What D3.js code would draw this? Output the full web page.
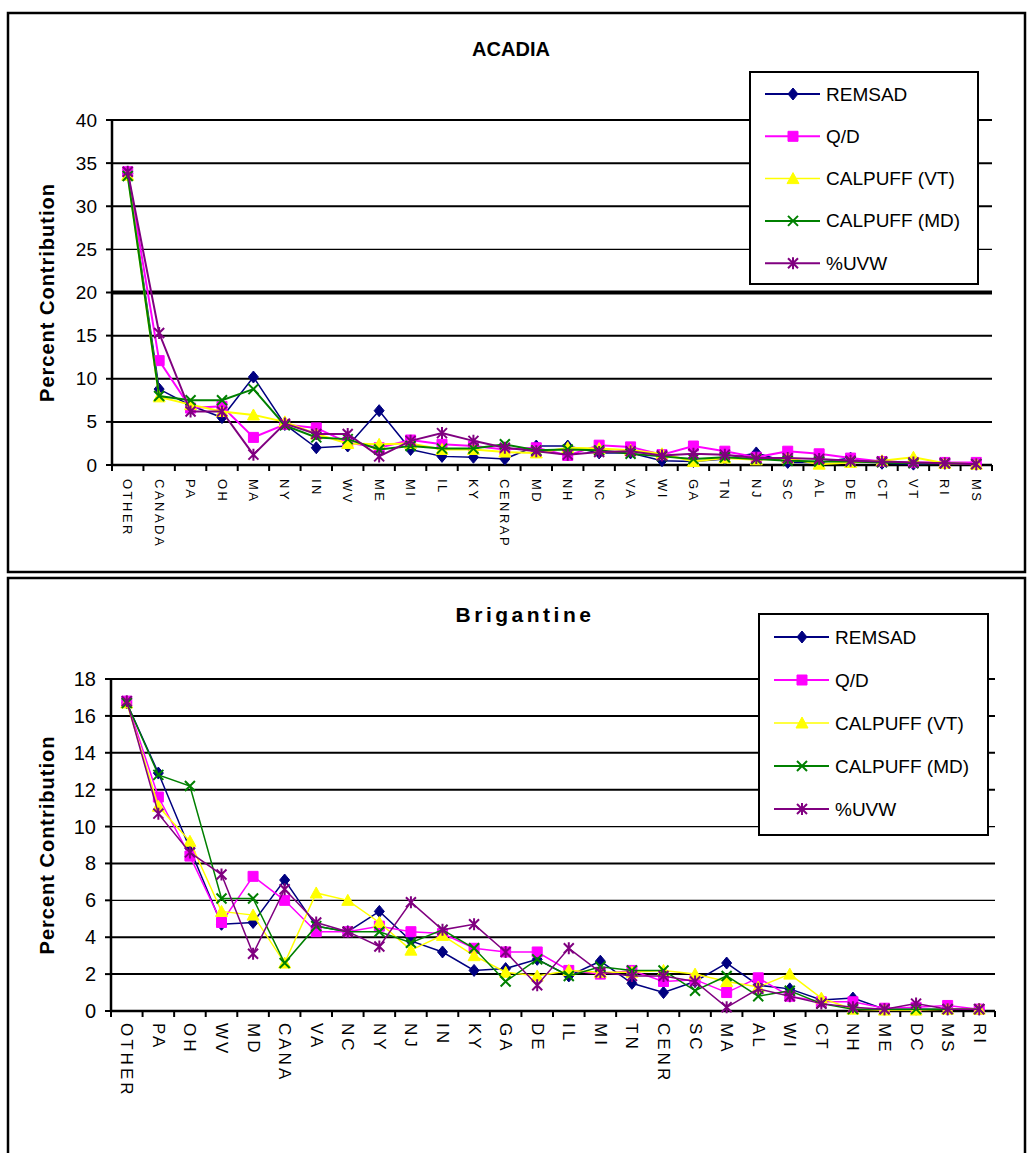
<!DOCTYPE html>
<html>
<head>
<meta charset="utf-8">
<script src="https://cdn.jsdelivr.net/npm/d3@7"></script>
<style>
  body { margin: 0; background: #fff; }
  svg { display: block; font-family: Arial, "Liberation Sans", sans-serif; }
</style>
</head>
<body>
<svg id="chart" width="1027" height="1153"></svg>
<script>
// ---- data ----
const seriesNames = ["REMSAD", "Q/D", "CALPUFF (VT)", "CALPUFF (MD)", "%UVW"];

const acadiaStates = ["OTHER","CANADA","PA","OH","MA","NY","IN","WV","ME","MI","IL","KY","CENRAP","MD",
    "NH","NC","VA","WI","GA","TN","NJ","SC","AL","DE","CT","VT","RI","MS"];
const acadiaRemsad = [33.8, 8.8, 6.9, 5.5, 10.2, 4.7, 2.0, 2.2, 6.3, 1.8, 1.0, 0.9, 0.7, 2.2, 2.2, 1.4, 1.4, 0.5, 0.4, 0.7, 1.4, 0.3, 0.3, 0.8, 0.2, 0.1, 0.2, 0.1];
const acadiaQD     = [34.0, 12.1, 6.6, 6.8, 3.2, 4.7, 4.3, 2.6, 2.0, 2.9, 2.4, 2.2, 1.8, 2.0, 1.1, 2.3, 2.1, 1.2, 2.2, 1.6, 0.9, 1.6, 1.3, 0.8, 0.4, 0.3, 0.3, 0.3];
const acadiaVT     = [33.6, 7.9, 7.0, 6.2, 5.8, 5.0, 3.6, 2.5, 2.4, 2.5, 1.8, 1.8, 1.5, 1.4, 2.0, 1.9, 1.7, 1.3, 0.4, 0.8, 0.6, 0.8, 0.1, 0.3, 0.5, 0.9, 0.2, 0.1];
const acadiaMD     = [33.5, 8.0, 7.5, 7.5, 8.8, 4.6, 3.2, 3.0, 1.8, 2.2, 1.9, 1.9, 2.4, 1.7, 1.8, 1.7, 1.3, 1.0, 0.7, 0.9, 0.7, 0.5, 0.4, 0.4, 0.3, 0.2, 0.2, 0.1];
const acadiaUVW    = [34.0, 15.3, 6.2, 6.2, 1.2, 4.8, 3.6, 3.6, 1.0, 2.8, 3.7, 2.8, 2.0, 1.6, 1.2, 1.5, 1.6, 1.1, 1.3, 1.2, 0.8, 0.8, 0.7, 0.5, 0.4, 0.3, 0.2, 0.1];
const acadiaTicks  = [0, 5, 10, 15, 20, 25, 30, 35, 40];

const brigStates = ["OTHER","PA","OH","WV","MD","CANA","VA","NC","NY","NJ","IN","KY","GA","DE","IL","MI",
    "TN","CENR","SC","MA","AL","WI","CT","NH","ME","DC","MS","RI"];
const brigRemsad = [16.7, 12.9, 8.8, 4.7, 4.8, 7.1, 4.6, 4.3, 5.4, 3.8, 3.2, 2.2, 2.3, 2.8, 1.9, 2.7, 1.5, 1.0, 1.6, 2.6, 1.4, 1.2, 0.6, 0.7, 0.1, 0.1, 0.1, 0.1];
const brigQD     = [16.8, 11.6, 8.4, 4.8, 7.3, 6.0, 4.3, 4.3, 4.6, 4.3, 4.2, 3.4, 3.2, 3.2, 2.2, 2.0, 2.2, 1.6, 1.7, 1.0, 1.8, 0.8, 0.5, 0.5, 0.15, 0.2, 0.3, 0.1];
const brigVT     = [16.7, 11.1, 9.2, 5.4, 5.2, 2.6, 6.4, 6.0, 4.8, 3.3, 4.1, 3.0, 2.1, 1.9, 2.2, 2.1, 2.1, 2.2, 2.0, 1.6, 1.3, 2.0, 0.7, 0.1, 0.05, 0.05, 0.1, 0.1];
const brigMD     = [16.7, 12.8, 12.2, 6.1, 6.1, 2.6, 4.6, 4.3, 4.3, 3.7, 4.4, 3.4, 1.6, 2.8, 1.9, 2.4, 2.2, 2.2, 1.1, 1.9, 0.8, 1.1, 0.4, 0.1, 0.1, 0.1, 0.1, 0.1];
const brigUVW    = [16.8, 10.7, 8.6, 7.4, 3.1, 6.6, 4.8, 4.3, 3.5, 5.9, 4.4, 4.7, 3.2, 1.4, 3.4, 2.1, 1.9, 1.9, 1.6, 0.2, 1.2, 0.8, 0.4, 0.2, 0.1, 0.4, 0.1, 0.1];
const brigTicks  = [0, 2, 4, 6, 8, 10, 12, 14, 16, 18];

const colors = ["#000080", "#ff00ff", "#ffff00", "#008000", "#800080"];

// marker paths centred on 0,0
function markerPath(i, s) {
    let h = s / 2;
    if (i == 0) return `M0,${-h - 1}L${h},0L0,${h + 1}L${-h},0Z`;
    if (i == 1) return `M${-h},${-h}H${h}V${h}H${-h}Z`;
    if (i == 2) return `M0,${-h - 1}L${h + 1},${h}H${-h - 1}Z`;
    if (i == 3) return `M${-h},${-h}L${h},${h}M${h},${-h}L${-h},${h}`;
    return `M${-h},${-h}L${h},${h}M${h},${-h}L${-h},${h}M0,${-h - 1}V${h + 1}`;
}

let svg = d3.select("#chart");

function drawPanel(cfg) {
    let g = svg.append("g");

    // panel frame
    g.append("rect")
        .attr("x", cfg.box[0]).attr("y", cfg.box[1])
        .attr("width", cfg.box[2]).attr("height", cfg.box[3])
        .attr("fill", "none").attr("stroke", "#000").attr("stroke-width", 2.5);

    g.append("text")
        .attr("x", cfg.titleX).attr("y", cfg.titleY)
        .attr("text-anchor", "middle")
        .attr("font-size", cfg.titleFont).attr("font-weight", "bold")
        .attr("letter-spacing", cfg.titleSpacing)
        .text(cfg.title);

    let x = d3.scaleBand().domain(cfg.states).range([cfg.left, cfg.right]);
    let y = d3.scaleLinear().domain([0, d3.max(cfg.ticks)]).range([cfg.bottom, cfg.top]);

    // gridlines (scan gives them uneven weights)
    g.selectAll(".grid").data(cfg.ticks.filter(t => t > 0)).enter()
        .append("line")
        .attr("x1", cfg.left).attr("x2", cfg.right)
        .attr("y1", d => y(d)).attr("y2", d => y(d))
        .attr("stroke", "#000")
        .attr("stroke-width", d => cfg.gridW[d] || 2);

    // y axis + ticks + labels
    g.append("line").attr("x1", cfg.left).attr("x2", cfg.left)
        .attr("y1", cfg.top).attr("y2", cfg.bottom)
        .attr("stroke", "#000").attr("stroke-width", 2.5);
    g.selectAll(".ytick").data(cfg.ticks).enter()
        .append("line")
        .attr("x1", cfg.left - 6).attr("x2", cfg.left)
        .attr("y1", d => y(d)).attr("y2", d => y(d))
        .attr("stroke", "#000").attr("stroke-width", 2);
    g.selectAll(".ylab").data(cfg.ticks).enter()
        .append("text")
        .attr("x", cfg.left - 15).attr("y", d => y(d))
        .attr("text-anchor", "end").attr("dominant-baseline", "central")
        .attr("font-size", cfg.tickFont)
        .text(d => d);

    g.append("text")
        .attr("transform", `translate(${cfg.yTitleX},${(cfg.top + cfg.bottom) / 2 + cfg.yTitleShift}) rotate(-90)`)
        .attr("text-anchor", "middle").attr("dominant-baseline", "central")
        .attr("font-size", "20px").attr("font-weight", "bold")
        .attr("letter-spacing", 1)
        .text("Percent Contribution");

    // x axis with ticks between categories
    g.append("line").attr("x1", cfg.left).attr("x2", cfg.right)
        .attr("y1", cfg.bottom).attr("y2", cfg.bottom)
        .attr("stroke", "#000").attr("stroke-width", 2.5);
    g.selectAll(".xtick").data(cfg.states.concat(["_end"])).enter()
        .append("line")
        .attr("x1", d => d == "_end" ? cfg.right : x(d))
        .attr("x2", d => d == "_end" ? cfg.right : x(d))
        .attr("y1", cfg.bottom).attr("y2", cfg.bottom + 6)
        .attr("stroke", "#000").attr("stroke-width", 2);
    g.selectAll(".xlab").data(cfg.states).enter()
        .append("text")
        .attr("transform", d => `translate(${x(d) + x.bandwidth() / 2},${cfg.bottom + cfg.xLabGap}) rotate(90)`)
        .attr("dominant-baseline", "central")
        .attr("font-size", cfg.xFont)
        .attr("letter-spacing", cfg.xSpacing)
        .text(d => d);

    // series
    let line = d3.line()
        .x((d, i) => x(cfg.states[i]) + x.bandwidth() / 2)
        .y(d => y(d));
    cfg.series.forEach((vals, si) => {
        g.append("path")
            .attr("d", line(vals))
            .attr("fill", "none")
            .attr("stroke", colors[si])
            .attr("stroke-width", cfg.lineW[si]);
        g.selectAll(".m" + si).data(vals).enter()
            .append("path")
            .attr("transform", (d, i) => `translate(${x(cfg.states[i]) + x.bandwidth() / 2},${y(d)})`)
            .attr("d", markerPath(si, 10))
            .attr("fill", si < 3 ? colors[si] : "none")
            .attr("stroke", colors[si])
            .attr("stroke-width", si < 3 ? 1 : 2);
    });

    // legend
    let lg = g.append("g");
    lg.append("rect")
        .attr("x", cfg.legend.x).attr("y", cfg.legend.y)
        .attr("width", cfg.legend.w).attr("height", cfg.legend.h)
        .attr("fill", "#fff").attr("stroke", "#000").attr("stroke-width", 2);
    seriesNames.forEach((name, si) => {
        let ly = cfg.legend.y + cfg.legend.first + si * cfg.legend.step;
        lg.append("line")
            .attr("x1", cfg.legend.x + 15).attr("x2", cfg.legend.x + 70)
            .attr("y1", ly).attr("y2", ly)
            .attr("stroke", colors[si]).attr("stroke-width", si == 2 ? 1.5 : 2);
        lg.append("path")
            .attr("transform", `translate(${cfg.legend.x + 43},${ly})`)
            .attr("d", markerPath(si, 10))
            .attr("fill", si < 3 ? colors[si] : "none")
            .attr("stroke", colors[si])
            .attr("stroke-width", si < 3 ? 1 : 2);
        lg.append("text")
            .attr("x", cfg.legend.x + 76).attr("y", ly)
            .attr("dominant-baseline", "central")
            .attr("font-size", "19px")
            .text(name);
    });
}

drawPanel({
    box: [8, 13, 1017, 559],
    title: "ACADIA", titleX: 511, titleY: 56, titleFont: "20px", titleSpacing: 0,
    states: acadiaStates,
    series: [acadiaRemsad, acadiaQD, acadiaVT, acadiaMD, acadiaUVW],
    ticks: acadiaTicks,
    gridW: {25: 1.2, 20: 4},
    left: 112, right: 992, top: 120, bottom: 465,
    tickFont: "19px", yTitleX: 47, yTitleShift: 0,
    xFont: "13px", xSpacing: 2.5, xLabGap: 14,
    lineW: [1.5, 2, 2, 2, 2],
    legend: {x: 750, y: 72, w: 228, h: 212, first: 22, step: 42.3}
});

drawPanel({
    box: [8, 578, 1017, 590],
    title: "Brigantine", titleX: 525, titleY: 622, titleFont: "21px", titleSpacing: 3.5,
    states: brigStates,
    series: [brigRemsad, brigQD, brigVT, brigMD, brigUVW],
    ticks: brigTicks,
    gridW: {10: 1.2, 6: 1.2},
    left: 111, right: 995, top: 679, bottom: 1011,
    tickFont: "20px", yTitleX: 47, yTitleShift: 0,
    xFont: "17px", xSpacing: 3, xLabGap: 12,
    lineW: [1.5, 1.5, 1.5, 1.5, 1.5],
    legend: {x: 759, y: 614, w: 229, h: 221, first: 23, step: 43}
});
</script>
</body>
</html>
